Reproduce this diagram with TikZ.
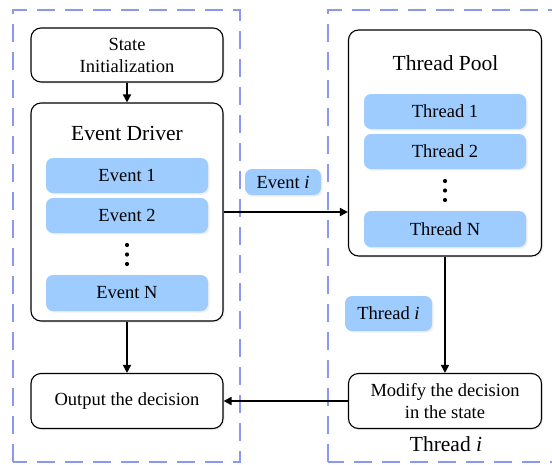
\documentclass[tikz,border=0pt]{standalone}
\usepackage{fontspec}
\setmainfont{Liberation Serif}
\usepackage{tikz}
\usetikzlibrary{positioning,arrows.meta,shadows}
\definecolor{evblue}{RGB}{158,204,255}
\definecolor{framecol}{RGB}{140,152,240}

\begin{document}
\begin{tikzpicture}[
		x=1pt, y=-1pt,
		box/.style={draw, rounded corners=10pt, align=center, fill=white, line width=1.1pt, font=\fontsize{18.5}{22}\selectfont, drop shadow={opacity=0.12, shadow xshift=1.5pt, shadow yshift=-1.5pt}},
		item/.style={fill=evblue, rounded corners=7pt, align=center, minimum width=162pt, minimum height=35pt, font=\fontsize{18.5}{22}\selectfont, drop shadow={opacity=0.12, shadow xshift=1.5pt, shadow yshift=-1.5pt}},
		title/.style={font=\fontsize{21.5}{24}\selectfont},
		frame/.style={draw=framecol, line width=1.8pt, dash pattern=on 18pt off 10pt},
		arr/.style={-{Triangle[length=8pt, width=8pt]}, line width=1.7pt}
		]
		\clip (0,0) rectangle (552,464);
		\fill[white] (0,0) rectangle (552,464);
		
		% dashed frames
		\draw[frame] (13,462) -- (13,10) -- (240,10) -- (240,462) -- cycle;
		\draw[frame] (328,462) -- (328,10) -- (570,10) -- (570,462) -- cycle;
		
		% left side
		\node[box, minimum width=192pt, minimum height=54pt] (init) at (127,55) {State\\Initialization};
		\node[box, minimum width=192pt, minimum height=218pt] (driver) at (127,212) {};
		\node[title] (drvtitle) at (127,133) {Event Driver};
		\node[item] (ev1) at (127,175.5) {Event 1};
		\node[item] (ev2) at (127,215.5) {Event 2};
		\coordinate (evdots) at (127,254.5);
		\node[item, minimum height=36pt] (evN) at (127,293) {Event N};
		\node[box, minimum width=192pt, minimum height=55pt] (output) at (127,401) {Output the decision};
		
		% right side
		\node[box, minimum width=193pt, minimum height=226pt] (pool) at (445,143) {};
		\node[title] (pooltitle) at (445.5,63) {Thread Pool};
		\node[item] (th1) at (445,111.5) {Thread 1};
		\node[item] (th2) at (445,151.5) {Thread 2};
		\coordinate (thdots) at (445,190.5);
		\node[item, minimum height=36pt] (thN) at (445,229) {Thread N};
		\node[box, minimum width=193pt, minimum height=55pt] (modify) at (445,401) {Modify the decision\\in the state};
		\node[title] (thlabel) at (446,444) {Thread \textit{i}};
		
		% vertical dots
		\foreach \d in {-9.5,0,9.5} {
			\fill (evdots) ++(0,\d) circle (2.1pt);
			\fill (thdots) ++(0,\d) circle (2.1pt);
		}
		
		% tags on the connectors
		\node[item, minimum width=76pt, minimum height=26pt] (evi) at (283,182) {Event \textit{i}};
		\node[item, minimum width=87pt, minimum height=35pt] (thi) at (388.5,313.5) {Thread \textit{i}};
		
		\draw[arr] (init) -- (driver);
		\draw[arr] (driver) -- (output);
		\draw[arr] (driver.east) -- (driver.east -| pool.west);
		\draw[arr] (pool) -- (modify);
		\draw[arr] (modify) -- (output);
	\end{tikzpicture}
\end{document}
